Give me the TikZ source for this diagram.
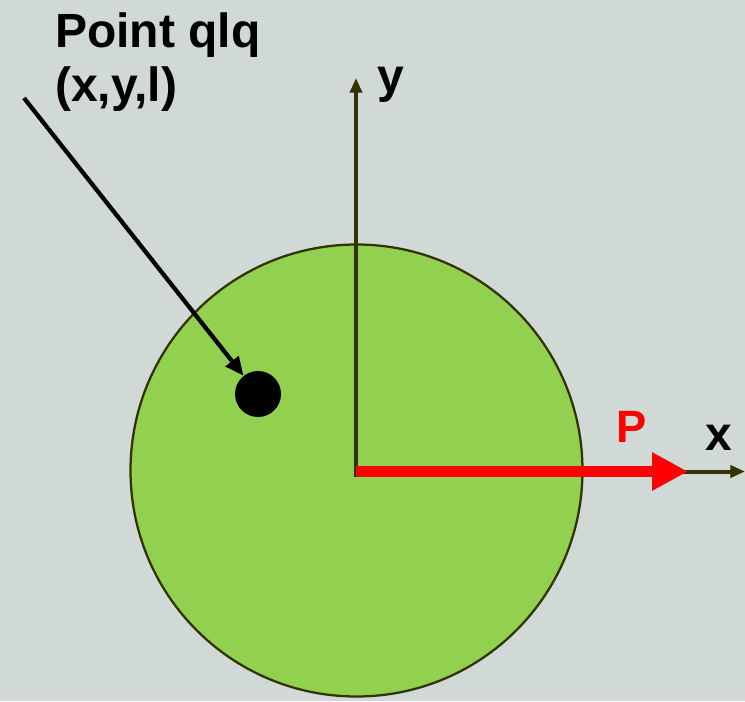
\documentclass[tikz,border=0pt]{standalone}
\usepackage{fontspec}
\setmainfont{Liberation Sans}
\usetikzlibrary{arrows.meta}
\definecolor{bg}{HTML}{D0D9D6}
\definecolor{disk}{HTML}{92D050}
\definecolor{axis}{HTML}{333300}
\begin{document}
\begin{tikzpicture}[x=0.75pt,y=-0.75pt,
  lbl/.style={font=\fontsize{36}{43}\selectfont\bfseries, inner sep=0pt},
  axisline/.style={draw=axis, line width=3pt, -{Triangle[length=11pt,width=9pt]}},
  pointer/.style={draw=black, line width=3.2pt, -{Triangle[length=14pt,width=12pt]}},
  force/.style={draw=red, line width=8.2pt, -{Triangle[length=27pt,width=27pt]}}]
\fill[bg] (0,0) rectangle (745,701);
\useasboundingbox (0,0) rectangle (745,701);
\node[circle, fill=disk, draw=axis, line width=1.7pt, minimum size=452*0.75pt, inner sep=0pt] (disk) at (356.5,470.5) {};
\coordinate (O) at (356,471.5);
\coordinate (ytip) at (356,78);
\coordinate (xtip) at (745,471.5);
\coordinate (ptip) at (688,471.5);
\coordinate (pstart) at (24,98);
\node[circle, fill=black, minimum size=46*0.75pt, inner sep=0pt] (dot) at (258,394) {};
\draw[axisline] ([yshift=-4pt]O) -- (ytip);
\draw[axisline] (O) -- (xtip);
\draw[force] (O) -- (ptip);
\draw[pointer] (pstart) -- (dot);
\node[lbl, anchor=base west] (t1) at (55,47) {Point qlq};
\node[lbl, anchor=base west] (t2) at (55,101) {(x,y,l)};
\node[lbl, anchor=base west] (ylab) at (377,92) {y};
\node[lbl, anchor=base west] (xlab) at (705,450) {x};
\node[lbl, text=red, anchor=base west, font=\fontsize{34}{40}\selectfont\bfseries] (plab) at (616,442) {P};
\end{tikzpicture}
\end{document}
